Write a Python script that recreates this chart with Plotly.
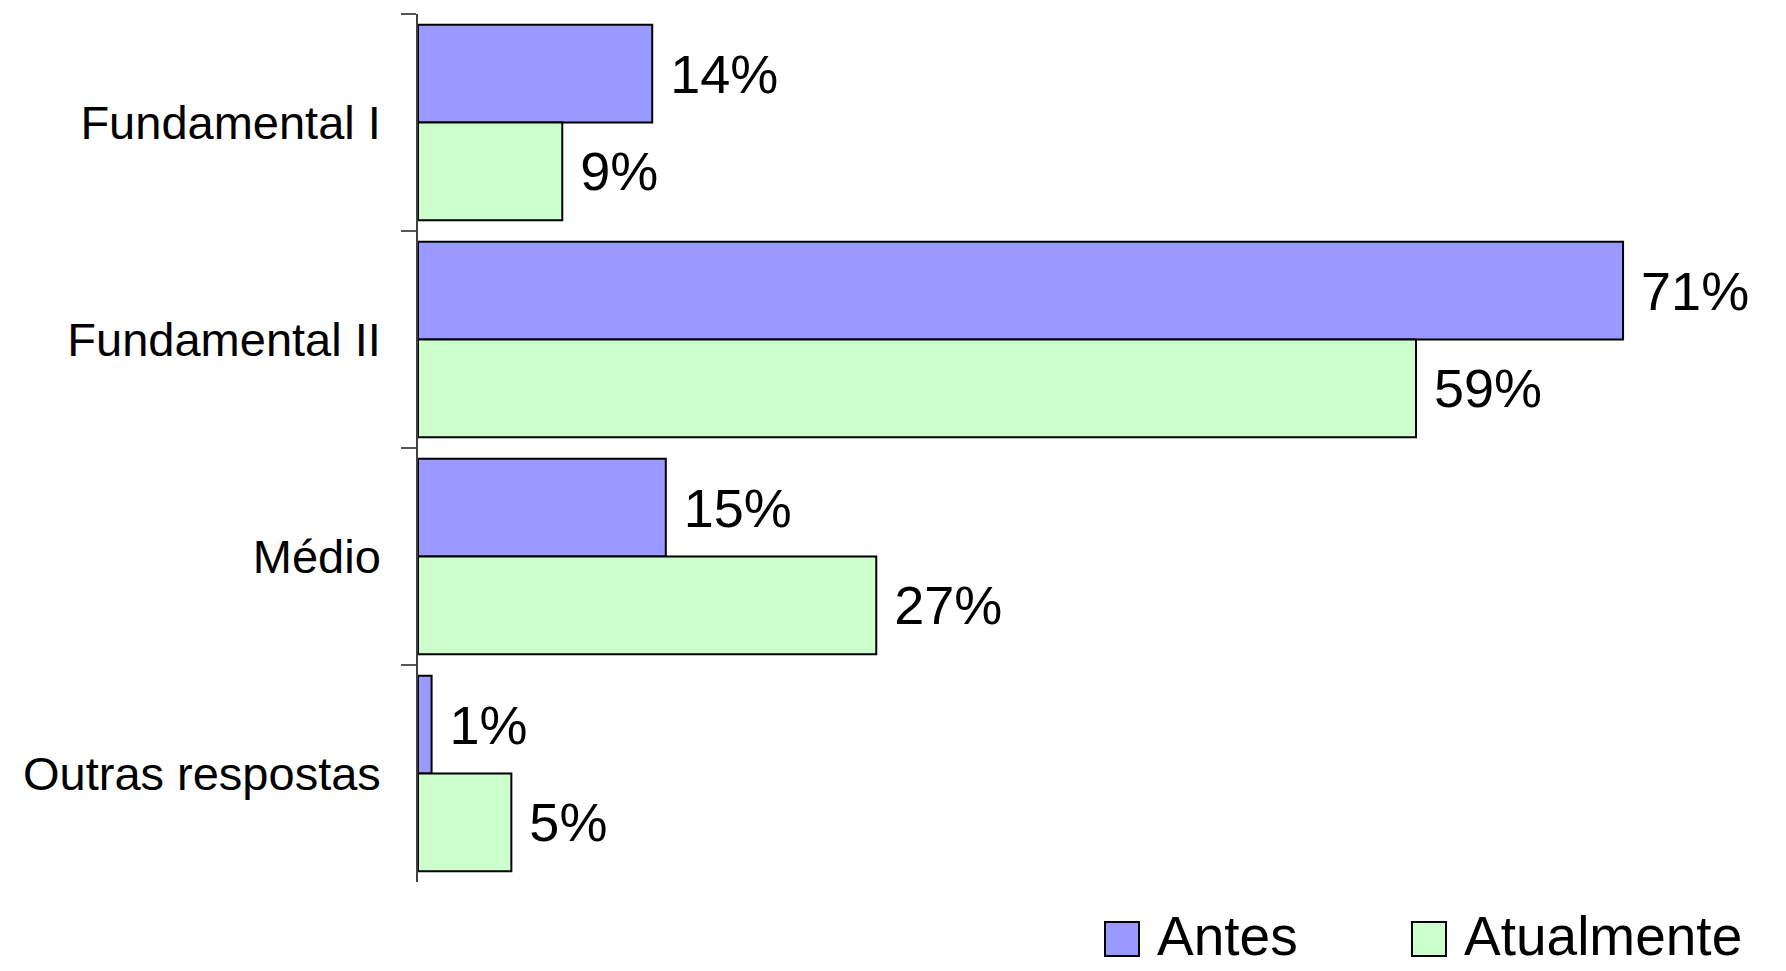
import plotly.graph_objects as go

categories = ["Fundamental I", "Fundamental II", "Médio", "Outras respostas"]
antes = [13.8, 71.0, 14.6, 0.8]
atualmente = [8.5, 58.8, 27.0, 5.5]
antes_labels = ["14%", "71%", "15%", "1%"]
atualmente_labels = ["9%", "59%", "27%", "5%"]

FONT = "Arial, Liberation Sans, Helvetica, sans-serif"
OFF = 8  # default body margin of the html page
W, H = 1786 - OFF, 971 - OFF
L, R, T, B = 418 - OFF, 0, 14 - OFF, 89
PW, PH = W - L - R, H - T - B

def px(x):  # page pixel -> paper coord
    return (x - OFF - L) / PW

def py(y):
    return (H - B - (y - OFF)) / PH

fig = go.Figure()
fig.add_trace(go.Bar(
    name="Antes", y=categories, x=antes, orientation="h",
    marker=dict(color="#9999FF", line=dict(color="#000000", width=2)),
    text=["\u00a0" + t for t in antes_labels], textposition="outside",
    textfont=dict(family=FONT, size=54, color="#000000"),
    constraintext="none", cliponaxis=False,
))
fig.add_trace(go.Bar(
    name="Atualmente", y=categories, x=atualmente, orientation="h",
    marker=dict(color="#CCFFCC", line=dict(color="#000000", width=2)),
    text=["\u00a0" + t for t in atualmente_labels], textposition="outside",
    textfont=dict(family=FONT, size=54, color="#000000"),
    constraintext="none", cliponaxis=False,
))

fig.update_layout(
    width=W, height=H, barmode="group", bargap=0.1, bargroupgap=0,
    margin=dict(l=L, r=R, t=T, b=B, autoexpand=False),
    plot_bgcolor="white", paper_bgcolor="white", showlegend=False,
    font=dict(family=FONT, color="#000000"),
)
fig.update_xaxes(range=[0, 80.6], visible=False, showgrid=False, zeroline=False)
fig.update_yaxes(
    type="category", autorange="reversed", showgrid=False, zeroline=False,
    showline=True, linecolor="#404040", linewidth=1.5,
    ticks="outside", ticklen=15, tickwidth=1.5, tickcolor="#555555",
    tickson="boundaries", ticklabelstandoff=26,
    tickfont=dict(family=FONT, size=47, color="#000000"),
)

# legend drawn manually (large square keys)
legend_items = [("Antes", "#9999FF", 1105), ("Atualmente", "#CCFFCC", 1412)]
for name, color, x0 in legend_items:
    fig.add_shape(type="rect", xref="paper", yref="paper",
                  x0=px(x0), x1=px(x0 + 34), y0=py(922), y1=py(956),
                  fillcolor=color, line=dict(color="#000000", width=2))
    fig.add_annotation(xref="paper", yref="paper", x=px(x0 + 50), y=py(936),
                       text=name, showarrow=False, xanchor="left", yanchor="middle",
                       font=dict(family=FONT, size=55, color="#000000"))

fig.write_html("out.html")
